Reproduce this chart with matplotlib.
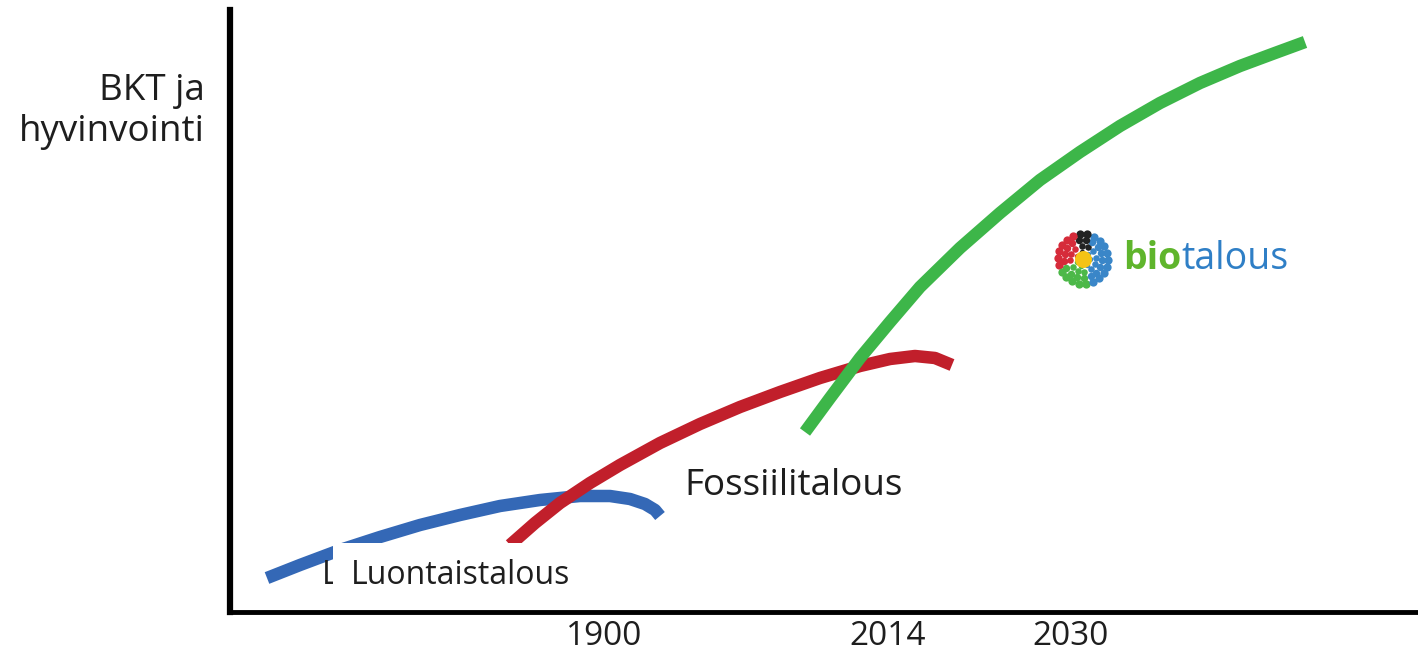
import matplotlib
matplotlib.use("Agg")
import matplotlib.pyplot as plt
from matplotlib.patches import Rectangle
import numpy as np

# ---- data (chart units: x = time position, y = GDP & wellbeing level) ----
X0, Y0 = 230, 612
blue_px = [(267, 578), (300, 565), (340, 550), (380, 537), (420, 525), (460, 515), (500, 506),
           (540, 500), (580, 496), (610, 496), (630, 499), (645, 504), (655, 510), (660, 516)]
red_px = [(510, 545), (535, 523), (560, 503), (590, 483), (620, 465), (660, 443), (700, 424),
          (740, 407), (780, 392), (820, 378), (860, 366), (890, 359), (915, 356), (935, 358), (952, 365)]
green_px = [(805, 432), (830, 398), (860, 358), (890, 322), (920, 287), (960, 248), (1000, 213),
            (1040, 180), (1080, 152), (1120, 126), (1160, 103), (1200, 83), (1240, 66), (1275, 53), (1305, 42)]
blue_x = [p[0] - X0 for p in blue_px]
blue_y = [Y0 - p[1] for p in blue_px]
red_x = [p[0] - X0 for p in red_px]
red_y = [Y0 - p[1] for p in red_px]
green_x = [p[0] - X0 for p in green_px]
green_y = [Y0 - p[1] for p in green_px]

tick_pos = [604 - X0, 888 - X0, 1071 - X0]
tick_labels = ["1900", "2014", "2030"]

W, H = 1418, 657
fig = plt.figure(figsize=(W / 100, H / 100), dpi=100)
ax = fig.add_axes([X0 / W, (657 - Y0) / H, (W - X0) / W, (Y0 - 10) / H])
ax.set_xlim(0, W - X0)
ax.set_ylim(0, Y0 - 10)
for s in ["top", "right"]:
    ax.spines[s].set_visible(False)
ax.spines["left"].set_linewidth(4.5)
ax.spines["bottom"].set_linewidth(3.5)
ax.spines["left"].set_zorder(6)
ax.spines["bottom"].set_zorder(6)
ax.set_yticks([])
font = "Open Sans"
tc = "#1e1e1e"
ax.set_xticks(tick_pos)
ax.set_xticklabels(tick_labels, fontsize=24, family=font, color=tc)
ax.tick_params(axis="x", length=0, pad=6)

lw = 9
ax.plot(blue_x, blue_y, color="#3468b6", lw=lw, solid_capstyle="butt", solid_joinstyle="round", zorder=2)
ax.plot(red_x, red_y, color="#c11f2b", lw=lw, solid_capstyle="butt", solid_joinstyle="round", zorder=3)
ax.plot(green_x, green_y, color="#3db649", lw=lw, solid_capstyle="butt", solid_joinstyle="round", zorder=3)

fig.text(205 / W, 1 - 91 / H, "BKT ja", ha="right", va="center", fontsize=26.5, family=font, color=tc)
fig.text(205 / W, 1 - 132 / H, "hyvinvointi", ha="right", va="center", fontsize=26.5, family=font, color=tc)
ax.text(684 - X0, Y0 - 486, "Fossiilitalous", ha="left", va="center", fontsize=26.5, family=font, color=tc)

# partially hidden label + white box label
ax.text(322 - X0, Y0 - 575, "L", ha="left", va="center", fontsize=23, family=font, color=tc, zorder=3)
ax.add_patch(Rectangle((333 - X0, Y0 - 600), 245, 57, facecolor="white", edgecolor="none", zorder=4))
ax.text(351 - X0, Y0 - 575, "Luontaistalous", ha="left", va="center", fontsize=23, family=font,
        color=tc, zorder=5)

# biotalous logo
cx, cy = 1083 - X0, Y0 - 259
rings = [(7, 7), (13, 12), (19, 17), (25, 22)]
for r, n in rings:
    for k in range(n):
        a = 2 * np.pi * k / n + r * 0.25
        deg = np.degrees(a) % 360
        if 65 <= deg < 105:
            c = "#222222"
        elif 105 <= deg < 195:
            c = "#d62b3a"
        elif 195 <= deg < 290:
            c = "#4cb848"
        else:
            c = "#3a86c8"
        ax.scatter(cx + r * np.cos(a), cy + r * np.sin(a), s=8 + r * 1.1, color=c, zorder=4, linewidths=0)
ax.scatter(cx, cy, s=150, color="#f4c316", zorder=5, linewidths=0)
t1 = ax.text(1123 - X0, cy, "bio", ha="left", va="center", fontsize=27, family=font,
             fontweight="bold", color="#5fb52c", zorder=4)
fig.canvas.draw()
bb = t1.get_window_extent()
x_end = ax.transData.inverted().transform((bb.x1, bb.y0))[0]
ax.text(x_end, cy, "talous", ha="left", va="center", fontsize=27, family=font,
        color="#2f7fc6", zorder=4)

fig.savefig("out.png", dpi=100)
